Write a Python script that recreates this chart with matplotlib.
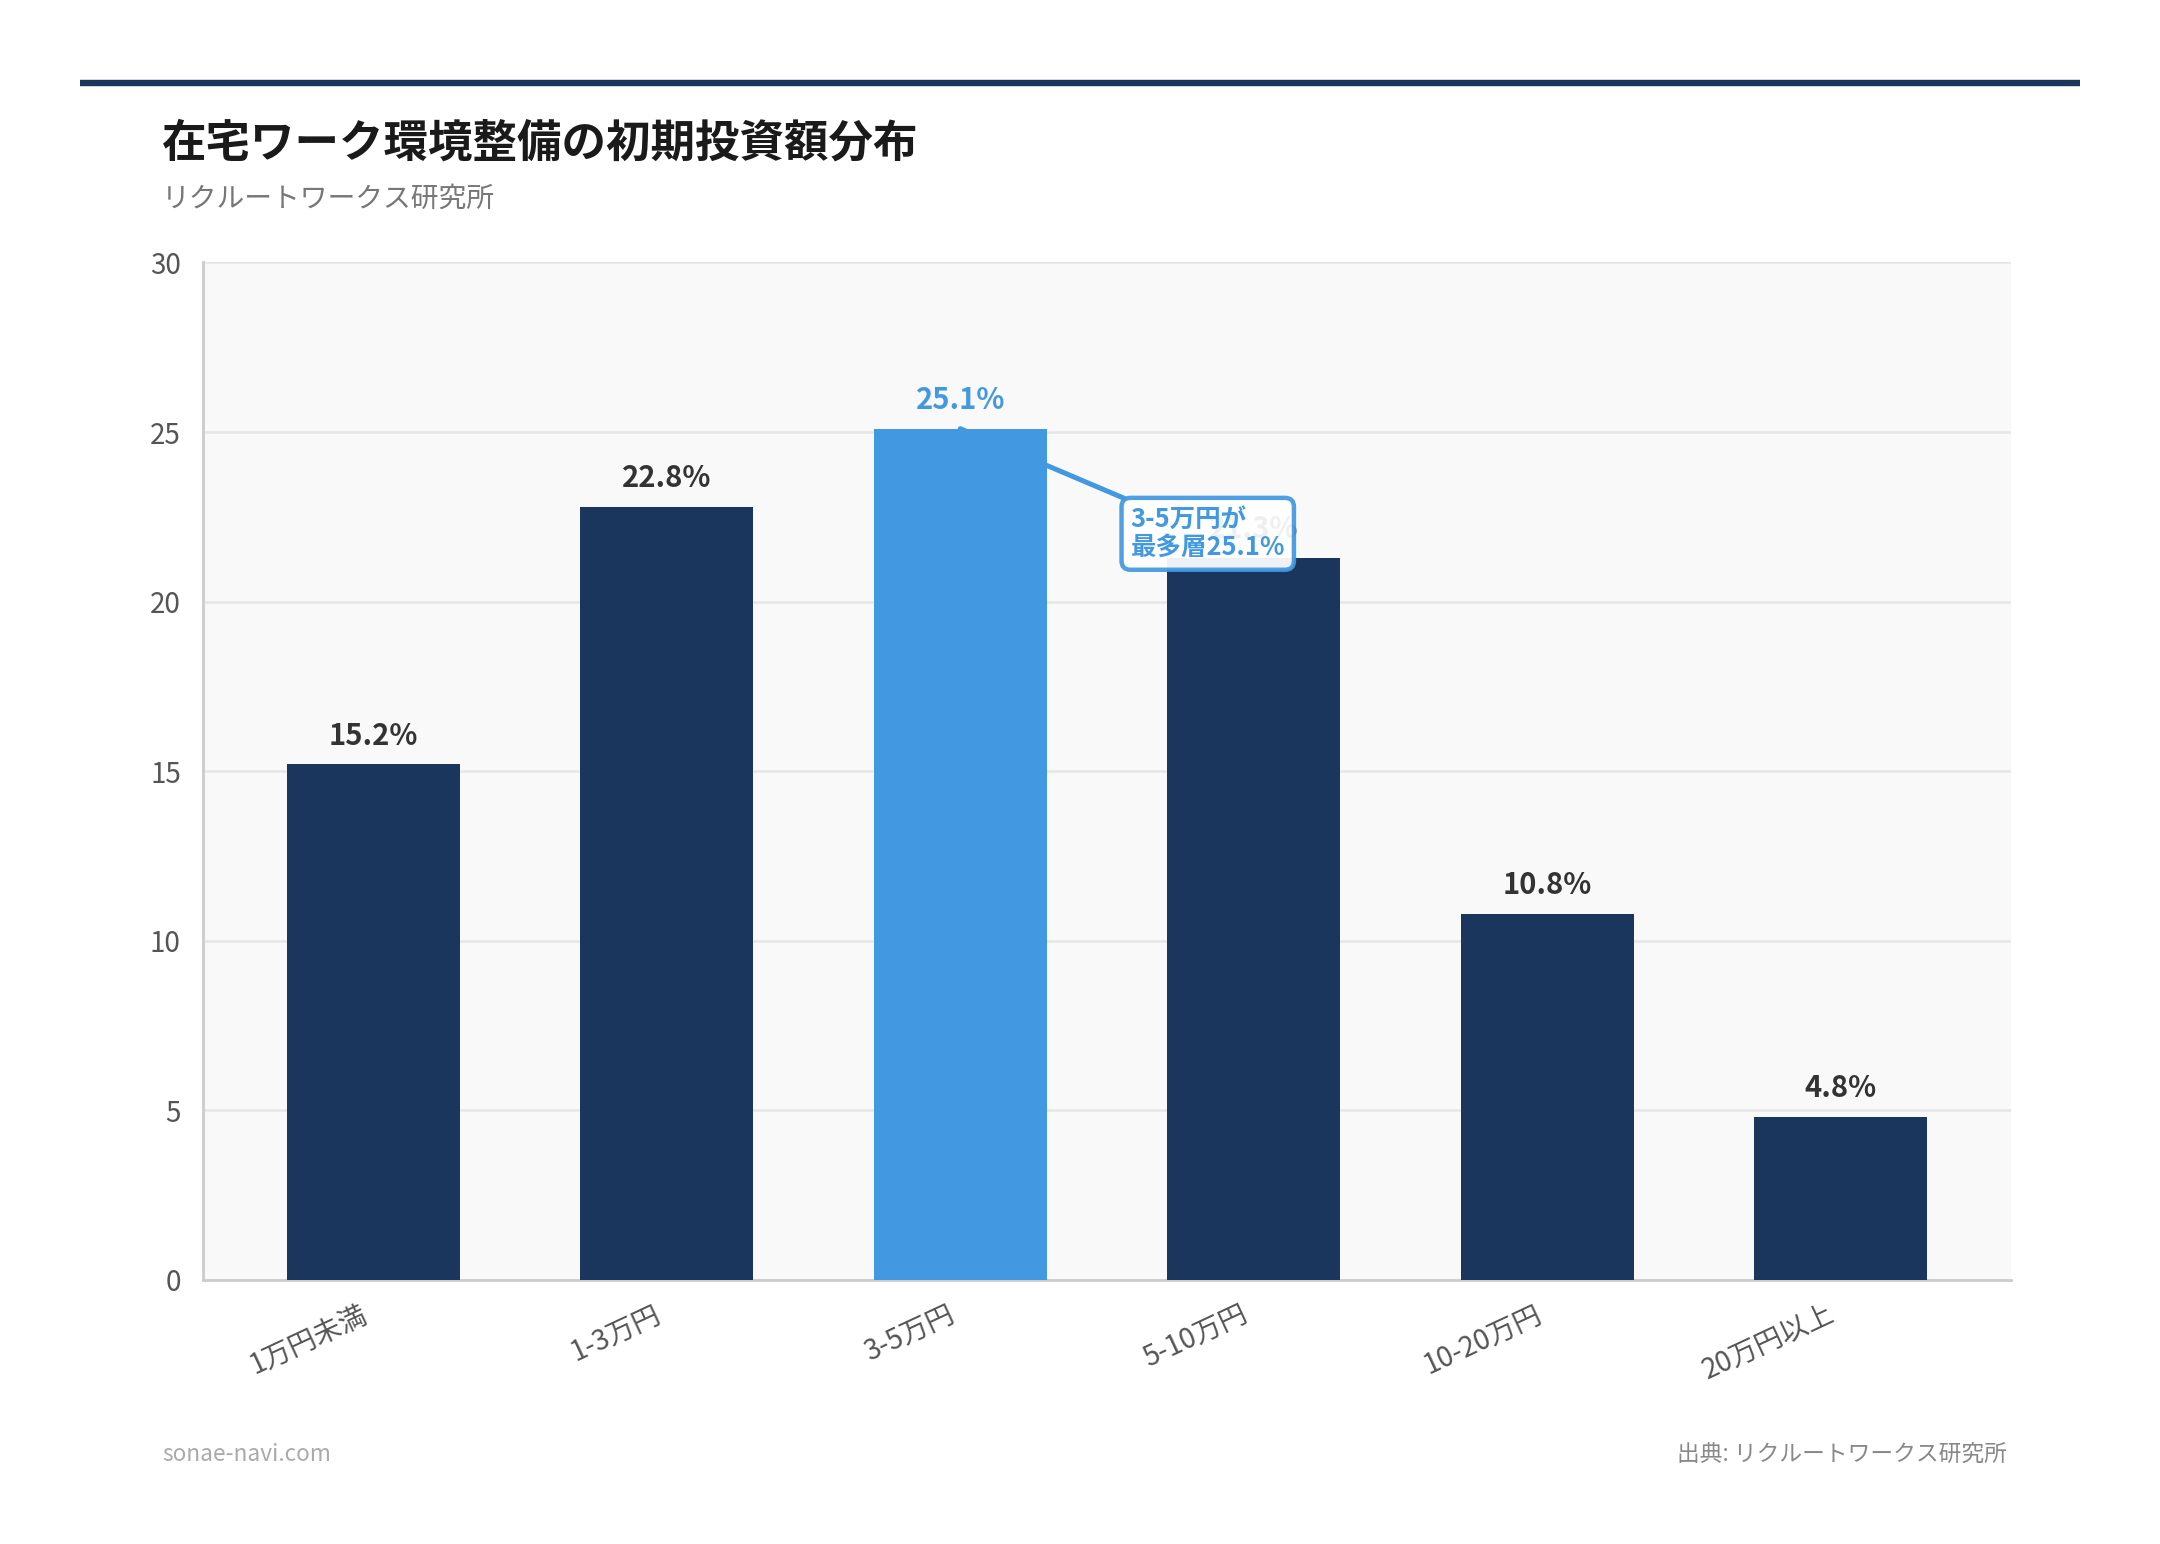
import matplotlib.pyplot as plt
from matplotlib.lines import Line2D
from matplotlib.transforms import ScaledTranslation

plt.rcParams['font.family'] = ['Noto Sans CJK JP', 'DejaVu Sans']

categories = ['1万円未満', '1-3万円', '3-5万円', '5-10万円', '10-20万円', '20万円以上']
shares = [15.2, 22.8, 25.1, 21.3, 10.8, 4.8]
highlight = 2

navy = '#1b365d'
blue = '#4299e1'

fig = plt.figure(figsize=(10.8, 7.72), dpi=200)
ax = fig.add_axes([0.094, 0.171, 0.837, 0.659])
ax.set_facecolor('#f9f9f9')

colors = [blue if i == highlight else navy for i in range(len(shares))]
x = list(range(len(categories)))
ax.bar(x, shares, width=0.59, color=colors, zorder=3)

for i, v in enumerate(shares):
    ax.annotate(f'{v}%', (i, v), xytext=(0, 5), textcoords='offset points',
                ha='center', va='bottom', fontsize=10.5, fontweight='bold',
                color=blue if i == highlight else '#333333', zorder=4)

ax.annotate('3-5万円が\n最多層25.1%', xy=(highlight, shares[highlight]),
            xytext=(2.58, 22.0), ha='left', va='center',
            fontsize=9.2, fontweight='bold', color=blue, linespacing=1.0,
            bbox=dict(boxstyle='round,pad=0.35', fc='white', ec=blue, lw=1.6, alpha=0.93),
            arrowprops=dict(arrowstyle='-', color=blue, lw=1.8, shrinkA=0, shrinkB=0),
            zorder=6)

ax.set_xlim(-0.58, 5.58)
ax.set_ylim(0, 30)
ax.set_yticks([0, 5, 10, 15, 20, 25, 30])
ax.set_xticks(x)
ax.set_xticklabels(categories, rotation=25, ha='right', rotation_mode='anchor')
ax.tick_params(axis='both', length=0, labelsize=10, labelcolor='#555555')
ax.tick_params(axis='x', pad=7)
ax.tick_params(axis='y', pad=8)
shift = ScaledTranslation(-5 / 72, 0, fig.dpi_scale_trans)
for lbl in ax.get_xticklabels():
    lbl.set_transform(lbl.get_transform() + shift)
ax.grid(axis='y', color='#e6e6e6', lw=0.9, zorder=0)
for s in ['top', 'right']:
    ax.spines[s].set_visible(False)
for s in ['left', 'bottom']:
    ax.spines[s].set_color('#cccccc')
    ax.spines[s].set_linewidth(1.0)

fig.add_artist(Line2D([0.037, 0.963], [0.946, 0.946], color=navy, lw=2.3,
                      solid_capstyle='butt'))
fig.text(0.075, 0.907, '在宅ワーク環境整備の初期投資額分布', fontsize=16,
         fontweight='bold', color='#1a1a1a', va='center')
fig.text(0.075, 0.871, 'リクルートワークス研究所', fontsize=10, color='#777777', va='center')
fig.text(0.075, 0.058, 'sonae-navi.com', fontsize=8.2, color='#aaaaaa', va='center')
fig.text(0.929, 0.058, '出典: リクルートワークス研究所', fontsize=8.2, color='#888888',
         va='center', ha='right')

fig.savefig('out.png', dpi=200)
